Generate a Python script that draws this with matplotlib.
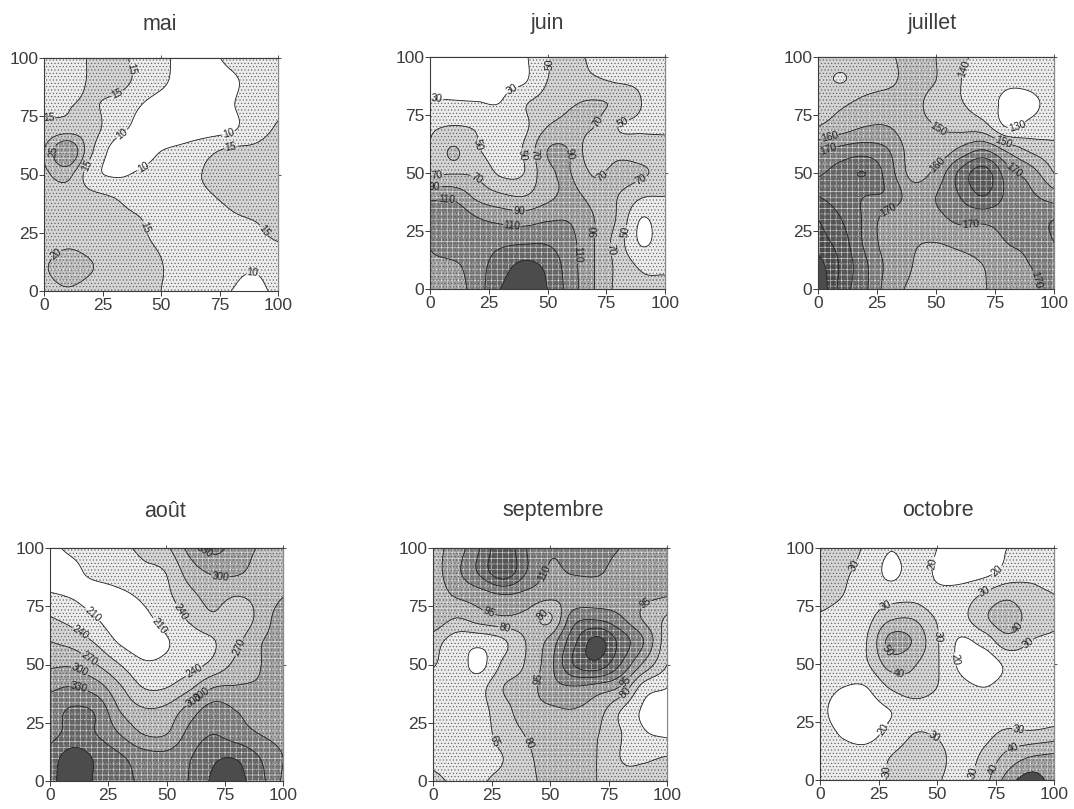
import numpy as np
import matplotlib
matplotlib.use("Agg")
import matplotlib.pyplot as plt

plt.rcParams['font.family'] = ['Liberation Sans', 'DejaVu Sans']
plt.rcParams['hatch.linewidth'] = 0.4

W, H = 1074, 809

# rows run from y=100 (top) to y=0 (bottom); columns x=0,10,...,100
mai_z = [
 [13,14,15.2,16,14,11,9,8.5,11.5,13,14],
 [13,14,15.3,17,14,11,8,7,9,12,14],
 [14,14.7,15.5,13.5,10.5,8,7,7,9.5,13,14],
 [16,17,17,12,9,7,7,7.5,9,13,15.5],
 [20,30,16,8.5,8,10,11.5,14,16,16,17],
 [19,21.5,12,9.5,10.5,12,13.5,15.5,17,18,18],
 [17,18,16.5,15,13,13,13,14.5,15.8,17,17.5],
 [17,18,17,16.5,15.5,13,12.5,13,14.3,15,16],
 [18,19.5,18.5,17.5,16,14.5,13,13,13,14,14.8],
 [19.5,22,20.3,17.5,16.5,15.2,13,12,11,10.5,12],
 [18,19.5,18,17,16,15,12.5,11.5,10,9,11],
]
juin_z = [
 [22,22,23,25,27,49,53,47,43,42,42],
 [22,22,23,25,27.5,50,55,52,48,47,42],
 [33,32,31,30.5,48,58,68,72,66,50,43],
 [47,51,48,42,46,70,76,70,50,48,47],
 [52,72,52,42,52,90,88,52,61,58,56],
 [66,69,66,47,50,85,90,67,78,73,62],
 [105,105,85,74,70,85,95,82,70,52,50],
 [120,125,112,105,102,108,108,90,67,29,45],
 [112,125,122,126,128,128,115,90,60,28,42],
 [105,106,122,140,155,145,118,90,65,47,47],
 [95,100,120,150,165,150,120,90,65,56,55],
]
juillet_z = [
 [145,144,146,149,152,150,142,138,137,137,138],
 [143,139.5,145,148,153,150,140.5,136,132,133,137],
 [147,148.5,153,155,153,146,141,135,128,128,134],
 [150,155,160,160,153,150,147,144,129.5,133,136],
 [168,173,175,170,155,152,162,170,158,148,143],
 [178,185,190,175,157,163,182,195,175,165,150],
 [190,185,180,178,165,170,180,190,178,172,165],
 [200,190,178,165,163,167,172,172,173,176,180],
 [205,195,178,165,161,160,163,166,170,172,180],
 [215,198,182,167,160,153,155,160,167,170,172],
 [220,196,182,165,158,152,152,159,165,169,172],
]
aout_z = [
 [205,215,222,233,247,265,310,340,315,298,290],
 [200,205,218,225,233,242,285,305,305,290,290],
 [212,207,200,205,216,234,262,282,272,280,298],
 [242,228,210,195,203,222,245,265,248,280,320],
 [270,258,235,206,195,208,225,238,262,297,310],
 [295,295,270,240,215,217,228,248,278,299,310],
 [325,332,315,275,240,240,265,300,303,303,305],
 [345,365,355,300,275,280,315,345,330,315,312],
 [350,370,360,330,300,300,340,360,345,330,318],
 [375,405,385,365,345,340,358,385,388,360,330],
 [380,410,385,370,355,345,362,395,400,370,325],
]
septembre_z = [
 [90,102,125,150,125,112,115,118,110,100,95],
 [88,106,128,152,125,108,112,113,102,98,97],
 [87,97,103,110,106,100,98,100,100,98,96],
 [92,80,88,93,90,78,118,122,112,93,78],
 [72,58,55,63,81,100,135,160,135,110,70],
 [66,58,46,68,82,105,140,150,125,92,65],
 [60,57,60,80,87,104,108,103,93,58,50],
 [58,56,60,74,88,92,94,87,65,48,45],
 [57,56,60,70,81,88,88,81,66,52,48],
 [60,57,62,65,77,86,87,80,65,63,66],
 [70,62,64,68,76,84,86,80,70,70,75],
]
octobre_z = [
 [40,36,28,20.5,24,20,14,15,20,25,26],
 [38,32,26,18,23,19,15,16.5,23,28,27],
 [37,30,24,25,26,22,24,31,37,32,30],
 [28,25,27,38,39,29,27,38,46,36,32],
 [24,25,30,53,49,31,19,24,36,30,28],
 [24,25,29,44,41,31,18,14,22,25,24],
 [24,20,20,31,36,30,23,20,23,24,24],
 [23,15,16,20,25,25,24,24,24,21,24],
 [24,19,17,23,30,29,24,27,32,32,34],
 [22,23,24,30,34,33,26,32,43,50,52],
 [22,23,25,31,35,31,27,36,54,65,55],
]

titles = ['mai', 'juin', 'juillet', 'août', 'septembre', 'octobre']
grids = [mai_z, juin_z, juillet_z, aout_z, septembre_z, octobre_z]
levels = [
 [10, 15, 20, 25, 30],
 [30, 50, 70, 90, 110, 130, 150],
 [130, 140, 150, 160, 170, 180, 190, 200, 210],
 [210, 240, 270, 300, 330, 360, 390],
 [50, 65, 80, 95, 110, 125, 140, 155],
 [20, 30, 40, 50, 60],
]
label_points = [
 [(40,96),(30,87),(33,68),(43,52),(79,67),(2,72),(80,61),(18,54),(42,27),(94,26),(89,7),(5,16),(3,60)],
 [(33,89),(3,83),(57,97),(82,72),(81,25),(40,58),(20,62),(47,58),(73,71),(72,50),(90,47),(20,48),(3,50),(76,17),(60,58),(38,35),(2,44),(70,25),(7,38),(35,27),(64,15)],
 [(62,95),(85,68),(5,65),(45,63),(78,62),(5,58),(52,52),(82,50),(29,36),(65,25),(97,5)],
 [(17,70),(47,67),(55,72),(12,62),(80,58),(17,53),(60,50),(14,50),(65,37),(13,42),(63,33),(73,87),(65,97)],
 [(26,17),(40,16),(43,44),(83,42),(83,37),(46,72),(52,87),(85,85),(25,75),(31,68)],
 [(14,93),(50,93),(74,92),(27,78),(70,82),(88,60),(50,62),(57,52),(33,42),(27,22),(85,22),(48,17),(25,4),(63,4),(73,5),(83,12),(82,68),(28,55)],
]
boxes = [
 (44, 278, 58, 291), (430, 665, 57, 289), (818, 1054, 57, 289),
 (50, 283, 548, 781), (433, 667, 548, 781), (820, 1054, 548, 780),
]
title_px = [160, 547, 932, 165, 553, 938]
title_pad = [23, 23.5, 23, 26, 27, 27]
shades = ['#ffffff', '#ececec', '#d4d4d4', '#bcbcbc', '#9e9e9e',
          '#7e7e7e', '#686868', '#565656', '#484848', '#3c3c3c', '#333333']
dark_hatch = ['', '.....', '.....', '.....', '.....', '.....', '.....', '.....', '.....', '', '']
light_hatch = ['', '', '', '+++', '+++', '+++', '+++', '+++', '+++', '', '']


def _cr(a, k=10):
    a = np.asarray(a, float)
    p = np.concatenate([[2 * a[0] - a[1]], a, [2 * a[-1] - a[-2]]])
    out = []
    t = np.arange(k) / k
    for i in range(1, len(p) - 2):
        p0, p1, p2, p3 = p[i - 1], p[i], p[i + 1], p[i + 2]
        out.append(0.5 * (2 * p1 + (p2 - p0) * t + (2 * p0 - 5 * p1 + 4 * p2 - p3) * t**2
                          + (3 * p1 - p0 - 3 * p2 + p3) * t**3))
    out.append([a[-1]])
    return np.concatenate(out)


def refine(z):
    z = np.asarray(z, float)[::-1]
    z = np.apply_along_axis(_cr, 1, z)
    return np.apply_along_axis(_cr, 0, z)


fig = plt.figure(figsize=(W / 100, H / 100), dpi=100)
tc = '#3c3c3c'
ticks = [0, 25, 50, 75, 100]
for title, g, lv, pts, (x0, x1, y0, y1), tx, tp in zip(titles, grids, levels, label_points, boxes, title_px, title_pad):
    ax = fig.add_axes([x0 / W, 1 - y1 / H, (x1 - x0) / W, (y1 - y0) / H])
    z = refine(g)
    xs = np.linspace(0, 100, z.shape[1])
    ys = np.linspace(0, 100, z.shape[0])
    n = len(lv) + 1
    band_colors = shades[:n - 1] + ['#4c4c4c']
    ax.contourf(xs, ys, z, levels=lv, colors=band_colors, extend='both')
    plt.rcParams['hatch.color'] = '#e2e2e2'
    ax.contourf(xs, ys, z, levels=lv, colors='none', hatches=light_hatch[:n - 1] + [''], extend='both')
    plt.rcParams['hatch.color'] = '#555555'
    ax.contourf(xs, ys, z, levels=lv, colors='none', hatches=dark_hatch[:n - 1] + [''], extend='both')
    cs = ax.contour(xs, ys, z, levels=lv, colors='#222222', linewidths=0.6)
    ax.clabel(cs, fmt='%d', fontsize=7.5, inline=True, inline_spacing=1, manual=pts, colors='#222222')
    ax.set_xlim(0, 100)
    ax.set_ylim(0, 100)
    ax.set_xticks(ticks)
    ax.set_yticks(ticks)
    ax.tick_params(length=3.5, width=0.7, color=tc, labelcolor=tc, labelsize=12.5, pad=1.5)
    ax.tick_params(axis='y', pad=0.5)
    for s in ax.spines.values():
        s.set_linewidth(0.8)
        s.set_color(tc)
    ax.spines['right'].set_color('#8a8a8a')
    top = ax.secondary_xaxis('top')
    top.set_xticks([50, 100], labels=[])
    top.tick_params(length=2.5, width=0.6, color=tc)
    right = ax.secondary_yaxis('right')
    right.set_yticks([50, 100], labels=[])
    right.tick_params(length=2.5, width=0.6, color=tc)
    fig.text(tx / W, 1 - (y0 - tp) / H, title, fontsize=15.5, color=tc, ha='center', va='bottom')

fig.savefig('out.png', dpi=100)
